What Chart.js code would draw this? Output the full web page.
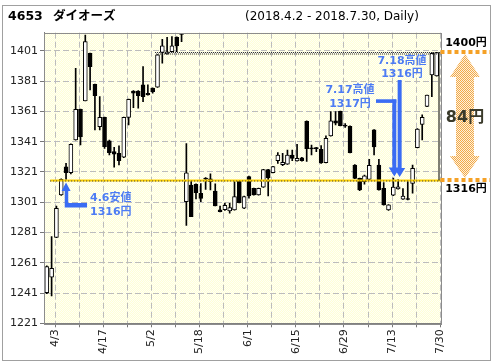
<!DOCTYPE html>
<html>
<head>
<meta charset="utf-8">
<script src="https://cdn.jsdelivr.net/npm/chart.js@4.4.1/dist/chart.umd.min.js"></script>
<style>
  html, body { margin: 0; padding: 0; background: #fff; }
  canvas { display: block; }
</style>
</head>
<body>
<canvas id="chart" width="496" height="364"></canvas>
<script>
// trading days 2018.4.2 - 2018.7.30
const dates = [
  '4/2','4/3','4/4','4/5','4/6','4/9','4/10','4/11','4/12','4/13','4/16','4/17','4/18','4/19','4/20','4/23','4/24','4/25','4/26','4/27',
  '5/1','5/2','5/7','5/8','5/9','5/10','5/11','5/14','5/15','5/16','5/17','5/18','5/21','5/22','5/23','5/24','5/25','5/28','5/29','5/30','5/31',
  '6/1','6/4','6/5','6/6','6/7','6/8','6/11','6/12','6/13','6/14','6/15','6/18','6/19','6/20','6/21','6/22','6/25','6/26','6/27','6/28','6/29',
  '7/2','7/3','7/4','7/5','7/6','7/9','7/10','7/11','7/12','7/13','7/17','7/18','7/19','7/20','7/23','7/24','7/25','7/26','7/27','7/30'
];
const openPrices = [
  1241.3,1251.4,1277.8,1305.8,1324.3,1320.6,1342.1,1362.4,1367.9,1399.4,1378.9,1350.9,1357.1,1341.5,1334.4,1333.3,1330.7,1357.1,1374.5,1374.5,
  1378.5,1373,1376.3,1377,1399.9,1399,1400.5,1410,1412,1301.4,1312.4,1312.8,1306.9,1317,1316.4,1308.4,1295.9,1296,1295.2,1295.9,1315,
  1297,1317.9,1310.2,1305.8,1310.9,1322.5,1320.6,1328.5,1325.8,1326.1,1332.2,1328.3,1330.4,1354.5,1336.8,1336.6,1336,1327.2,1344.8,1354.7,1361,
  1351.8,1351.2,1325.6,1316.8,1314.5,1316,1348.8,1325.6,1310.2,1295.9,1305.6,1309.8,1303,1303.3,1313.5,1337,1352.4,1364.3,1385.1,1384.5
];
const highPrices = [
  1259,1278.3,1298.5,1316.5,1326.7,1339.5,1389.5,1362.6,1411.5,1399.6,1379,1370.8,1357.3,1342.1,1337.3,1338.2,1357.3,1369.2,1374.7,1374.7,
  1390.6,1378.5,1376.5,1398.5,1408.7,1410,1410.4,1410.2,1412.5,1339.7,1315,1313.2,1313.3,1317.3,1319.7,1313.1,1298.5,1300.5,1300.3,1314.6,1315.2,
  1305.1,1318.3,1310.4,1310.4,1322.8,1322.7,1324.7,1333.8,1333.3,1335.5,1335.5,1339.3,1330.6,1354.7,1338.8,1337.3,1338.5,1344.8,1360.9,1360.9,1361.2,
  1353,1351.4,1325.8,1317,1319,1329.4,1349,1329.4,1314,1299.4,1317,1316,1310,1314.6,1325.6,1349.6,1358.7,1371.8,1399.8,1400
];
const lowPrices = [
  1240.5,1239.1,1277.5,1305.5,1316,1319.7,1342,1338.8,1367.9,1375.2,1348.8,1348.8,1336.6,1332.2,1324.1,1325.6,1330.5,1352,1363.5,1363.1,
  1367.5,1371.7,1373,1376.8,1392.8,1398.8,1400.3,1400.5,1407,1285.6,1291.5,1303.2,1301.4,1309.5,1309.1,1298.5,1294.6,1295.5,1293.7,1295.7,1300.5,
  1296.8,1303.6,1305.6,1305.6,1310.7,1305.2,1320.4,1326.7,1325.2,1325.9,1328.5,1328.1,1328.2,1328,1332.2,1334.4,1326.7,1327,1344.6,1352,1351.4,
  1350.5,1333.6,1316.6,1308.7,1313,1315.7,1332.2,1308.9,1299,1295.5,1305.4,1309.6,1302.8,1302.6,1306.9,1336.8,1342.1,1364.1,1370.8,1384.3
];
const closePrices = [
  1258.4,1257.3,1297,1316.2,1320.6,1339.3,1362.4,1344.3,1407.1,1390.6,1371.4,1357.1,1337.7,1333.8,1332.8,1328.5,1357.1,1369,1373,1371.4,
  1370.8,1371.9,1374.1,1398.3,1404.3,1400.3,1404.3,1404.3,1411.8,1320.4,1291.5,1307.3,1303.5,1316.2,1314.6,1298.5,1294.8,1299,1297.4,1304.7,1300.7,
  1304.7,1305.1,1305.8,1310.2,1322.5,1317,1324.5,1332.2,1327.4,1332.2,1330,1330,1328.5,1336.4,1336.2,1336.4,1326.9,1343.2,1354.7,1353.2,1351.6,
  1351.2,1333.8,1316.8,1309.1,1318.5,1325.3,1337.5,1309.1,1299.2,1299.2,1311,1311.1,1305.1,1302.8,1323.4,1349.4,1357.1,1371.8,1399.4,1399.9
];
const yTicks = [1221, 1241, 1261, 1281, 1301, 1321, 1341, 1361, 1381, 1401];

const FONT = '"DejaVu Sans", "Noto Sans CJK JP", sans-serif';
const BLUE_TEXT = '#4d7cf4';
const BLUE_ARROW = '#3a6cf4';
const ORANGE = '#f5a126';

function checker(c1, c2) {
  const pc = document.createElement('canvas');
  pc.width = 2; pc.height = 2;
  const p = pc.getContext('2d');
  p.fillStyle = c1; p.fillRect(0, 0, 2, 2);
  p.fillStyle = c2; p.fillRect(0, 0, 1, 1); p.fillRect(1, 1, 1, 1);
  return p.createPattern(pc, 'repeat');
}

function poly(ctx, pts, fill) {
  ctx.beginPath();
  ctx.moveTo(pts[0][0], pts[0][1]);
  for (let i = 1; i < pts.length; i++) ctx.lineTo(pts[i][0], pts[i][1]);
  ctx.closePath();
  ctx.fillStyle = fill;
  ctx.fill();
}

// arrow pointing down to (tx, ty)
function downArrow(ctx, tx, ty, topY) {
  poly(ctx, [[tx - 2, topY], [tx + 2, topY], [tx + 2, ty - 9], [tx + 5.5, ty - 9],
             [tx, ty], [tx - 5.5, ty - 9], [tx - 2, ty - 9]], BLUE_ARROW);
}

const chartDecor = {
  id: 'chartDecor',
  beforeDraw(chart) {
    const { ctx, chartArea: a } = chart;
    ctx.save();
    ctx.fillStyle = checker('#ffffd6', '#fffff6');
    ctx.fillRect(a.left, a.top, a.right - a.left, a.bottom - a.top);
    ctx.restore();
  },
  afterDatasetsDraw(chart) {
    const { ctx, chartArea: a, scales: { x, y } } = chart;
    ctx.save();

    // 1316 support line
    const y1316 = Math.round(y.getPixelForValue(1316)) + 0.5;
    ctx.strokeStyle = '#ffd200';
    ctx.lineWidth = 2;
    ctx.beginPath(); ctx.moveTo(x.getPixelForValue(0.7), y1316); ctx.lineTo(a.right, y1316); ctx.stroke();
    ctx.strokeStyle = '#333';
    ctx.lineWidth = 1;
    ctx.setLineDash([1, 2]);
    ctx.beginPath(); ctx.moveTo(x.getPixelForValue(0.7), y1316 + 0.5); ctx.lineTo(a.right, y1316 + 0.5); ctx.stroke();

    // 1400 line
    const y1400 = Math.round(y.getPixelForValue(1400)) + 0.5;
    ctx.strokeStyle = '#222';
    ctx.setLineDash([1, 1]);
    ctx.beginPath(); ctx.moveTo(x.getPixelForValue(22.5), y1400); ctx.lineTo(a.right, y1400); ctx.stroke();
    ctx.beginPath(); ctx.moveTo(x.getPixelForValue(22.5) + 1, y1400 + 1.5); ctx.lineTo(a.right, y1400 + 1.5); ctx.stroke();
    ctx.setLineDash([]);

    // range bar at right edge
    ctx.strokeStyle = '#000';
    ctx.beginPath(); ctx.moveTo(a.right - 1.5, y1400); ctx.lineTo(a.right - 1.5, y1316); ctx.stroke();

    // 4.6 low arrow
    const lx = x.getPixelForValue(4);
    const lt = y.getPixelForValue(lowPrices[4]) + 3;
    poly(ctx, [[lx, lt], [lx + 4.5, lt + 8.5], [lx + 2.2, lt + 8.5], [lx + 2.2, lt + 20.5], [lx + 21, lt + 20.5],
               [lx + 21, lt + 25], [lx - 1.3, lt + 25], [lx - 1.3, lt + 8.5], [lx - 4.5, lt + 8.5]], BLUE_ARROW);

    // 7.17 / 7.18 high arrows
    const ax1 = x.getPixelForValue(72) + 1;
    const ay1 = y.getPixelForValue(highPrices[72]) - 1.5;
    downArrow(ctx, ax1, ay1, 99.5);
    ctx.fillStyle = BLUE_ARROW;
    ctx.fillRect(376, 99.3, ax1 - 376 + 2, 3.6);
    const ax2 = x.getPixelForValue(73) + 1.5;
    const ay2 = y.getPixelForValue(highPrices[73]) - 2.5;
    downArrow(ctx, ax2, ay2, 80);

    ctx.font = 'bold 11px ' + FONT;
    ctx.fillStyle = BLUE_TEXT;
    ctx.textBaseline = 'middle';
    ctx.textAlign = 'left';
    ctx.fillText('4.6安値', 90, 198);
    ctx.fillText('1316円', 90, 212);
    ctx.textAlign = 'center';
    ctx.fillText('7.17高値', 350, 90);
    ctx.fillText('1317円', 350, 104);
    ctx.fillText('7.18高値', 402, 61);
    ctx.fillText('1316円', 402, 74);
    ctx.restore();
  },
  afterDraw(chart) {
    const { ctx, chartArea: a, scales: { y } } = chart;
    ctx.save();
    // plot frame
    ctx.strokeStyle = '#8c8c8c';
    ctx.lineWidth = 1;
    ctx.strokeRect(Math.round(a.left) + 0.5, Math.round(a.top) + 0.5,
                   Math.round(a.right - a.left), Math.round(a.bottom - a.top));
    // outer frame
    ctx.strokeStyle = '#a0a0a0';
    ctx.strokeRect(2.5, 5.5, 488, 355);

    // title
    ctx.fillStyle = '#000';
    ctx.textBaseline = 'middle';
    ctx.textAlign = 'left';
    ctx.font = 'bold 12.5px ' + FONT;
    ctx.fillText('4653', 8, 17);
    ctx.fillText('ダイオーズ', 53, 17);
    ctx.font = '12px ' + FONT;
    ctx.fillText('(2018.4.2 - 2018.7.30, Daily)', 245, 17);

    // right side range marker
    const yTop = Math.round(y.getPixelForValue(1400));
    const yBot = Math.round(y.getPixelForValue(1316));
    ctx.strokeStyle = ORANGE;
    ctx.lineWidth = 4;
    ctx.setLineDash([4, 3]);
    ctx.beginPath(); ctx.moveTo(a.right, yTop); ctx.lineTo(490, yTop); ctx.stroke();
    ctx.beginPath(); ctx.moveTo(a.right, yBot); ctx.lineTo(490, yBot); ctx.stroke();
    ctx.setLineDash([]);

    const cx = 465;
    poly(ctx, [[cx, yTop + 2], [cx + 15, yTop + 25], [cx + 9, yTop + 25], [cx + 9, yBot - 24],
               [cx + 15, yBot - 24], [cx, yBot - 2], [cx - 15, yBot - 24], [cx - 9, yBot - 24],
               [cx - 9, yTop + 25], [cx - 15, yTop + 25]], checker('#fdf1dc', '#f2a94a'));

    ctx.textAlign = 'center';
    ctx.fillStyle = '#000';
    ctx.font = 'bold 11px ' + FONT;
    ctx.fillText('1400円', 466, 43);
    ctx.fillText('1316円', 466, 189);
    ctx.font = 'bold 16px ' + FONT;
    ctx.fillStyle = '#3a3a2a';
    ctx.fillText('84円', 465, 118);
    ctx.restore();
  }
};

const isUp = openPrices.map((o, i) => closePrices[i] >= o);

new Chart(document.getElementById('chart'), {
  type: 'bar',
  data: {
    datasets: [
      {
        label: 'body',
        data: dates.map((d, i) => ({ x: i, y: [openPrices[i], closePrices[i]] })),
        backgroundColor: isUp.map(u => u ? '#ffffff' : '#000000'),
        borderColor: '#000',
        borderWidth: 1,
        borderSkipped: false,
        barThickness: 4,
        minBarLength: 1,
        grouped: false,
        order: 1
      },
      {
        label: 'wick',
        data: dates.map((d, i) => ({ x: i, y: [lowPrices[i], highPrices[i]] })),
        backgroundColor: '#000',
        borderWidth: 0,
        barThickness: 1,
        grouped: false,
        order: 2
      }
    ]
  },
  options: {
    responsive: false,
    devicePixelRatio: 1,
    animation: false,
    layout: { padding: { left: 4, top: 32.7, right: 55.5, bottom: 4.7 } },
    plugins: { legend: { display: false }, tooltip: { enabled: false }, title: { display: false } },
    scales: {
      x: {
        type: 'linear',
        min: -0.58,
        max: 81.8,
        offset: false,
        afterFit: s => { s.height = 36; },
        afterBuildTicks: s => {
          s.ticks = dates.map((d, i) => i).filter(i => i % 5 === 1).map(i => ({ value: i + 0.75 }));
        },
        grid: { offset: false, color: '#bcbcbc', tickLength: 4, tickColor: '#777', tickBorderDash: [] },
        border: { display: true, color: '#808080', dash: [6, 3] },
        ticks: {
          autoSkip: false,
          maxRotation: 90,
          minRotation: 90,
          padding: 2,
          color: '#222',
          font: { family: FONT, size: 11 },
          callback: v => {
            const i = Math.round(v - 0.75);
            return (i - 1) % 10 === 0 ? dates[i] : '';
          }
        }
      },
      y: {
        type: 'linear',
        min: 1221,
        max: 1413,
        beginAtZero: false,
        afterFit: s => { s.width = 40; },
        afterBuildTicks: s => { s.ticks = yTicks.map(v => ({ value: v })); },
        grid: { color: '#bcbcbc', tickLength: 4, tickColor: '#777', tickBorderDash: [] },
        border: { display: true, color: '#808080', dash: [6, 3] },
        ticks: {
          padding: 2,
          color: '#222',
          font: { family: FONT, size: 11 },
          callback: v => String(v)
        }
      }
    }
  },
  plugins: [chartDecor]
});
</script>
</body>
</html>
